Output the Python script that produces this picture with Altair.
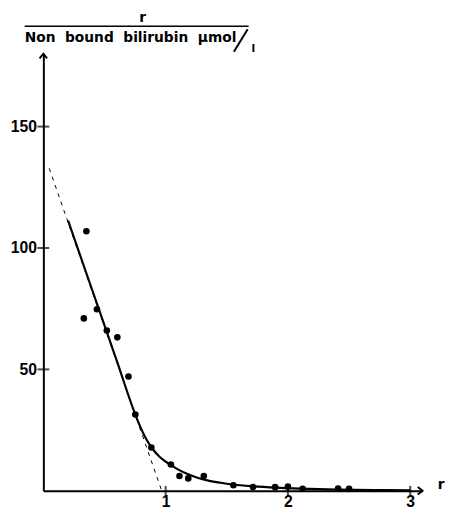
import altair as alt
import pandas as pd

# Measured points (r, r / non-bound bilirubin)
pt_x = [0.352, 0.331, 0.438, 0.519, 0.605, 0.696, 0.752, 0.883, 1.043, 1.113,
        1.185, 1.312, 1.554, 1.715, 1.895, 2.0, 2.12, 2.41, 2.5]
pt_y = [106.9, 71.0, 74.8, 66.0, 63.2, 47.1, 31.4, 17.8, 10.8, 6.1,
        5.1, 6.1, 2.3, 1.5, 1.5, 1.7, 0.8, 0.9, 0.8]

# Fitted curve (solid)
fit_x = [0.202, 0.40, 0.60, 0.752, 0.80, 0.85, 0.90, 0.95, 1.00, 1.05, 1.10,
         1.18, 1.26, 1.35, 1.45, 1.55, 1.70, 1.90, 2.10, 2.40, 2.70, 3.00]
fit_y = [111.3, 82.6, 53.6, 31.4, 25.5, 20.5, 16.8, 14.0, 12.0, 10.4, 8.8,
         6.9, 5.4, 4.2, 3.3, 2.6, 1.9, 1.3, 0.9, 0.5, 0.3, 0.2]

# Extrapolated straight line (dashed)
dash_x = [0.048, 0.968]
dash_y = [132.8, 0.0]

x_ticks = [1, 2, 3]
y_ticks = [50, 100, 150]
x_max = 3.1
y_max = 180

W, H = 386, 445
FONT = "DejaVu Sans"
NB = "\u00a0"

xs = alt.Scale(domain=[0, x_max], nice=False, zero=True)
ys = alt.Scale(domain=[0, y_max], nice=False, zero=True)

pts = pd.DataFrame({"x": pt_x, "y": pt_y})
fit = pd.DataFrame({"x": fit_x, "y": fit_y})
dash = pd.DataFrame({"x": dash_x, "y": dash_y})
xt = pd.DataFrame({"x": x_ticks, "y": [0] * len(x_ticks)})
yt = pd.DataFrame({"x": [0] * len(y_ticks), "y": y_ticks})
arr_x = pd.DataFrame({"x": [x_max], "y": [0]})
arr_y = pd.DataFrame({"x": [0], "y": [y_max]})

X = alt.X("x:Q", scale=xs, axis=alt.Axis(
    values=x_ticks, title=None, grid=False, ticks=False, domainWidth=2,
    domainColor="black", labelFont="Liberation Sans", labelFontWeight="bold",
    labelFontSize=16, labelColor="black", labelPadding=3))
Y = alt.Y("y:Q", scale=ys, axis=alt.Axis(
    values=y_ticks, title=None, grid=False, ticks=False, domainWidth=2,
    domainColor="black", labelFont="Liberation Sans", labelFontWeight="bold",
    labelFontSize=16, labelColor="black", labelPadding=7))

dashed = alt.Chart(dash).mark_line(color="black", strokeWidth=1, strokeDash=[4, 5]).encode(x=X, y=Y)
solid = alt.Chart(fit).mark_line(color="black", strokeWidth=2.2, interpolate="monotone").encode(x=X, y=Y)
dots = alt.Chart(pts).mark_circle(color="black", size=45, opacity=1).encode(x=X, y=Y)
xtick = alt.Chart(xt).mark_tick(orient="vertical", color="black", size=10, thickness=2).encode(x=X, y=Y)
ytick = alt.Chart(yt).mark_tick(orient="horizontal", color="black", size=12, thickness=2).encode(x=X, y=Y)
ax_arrow = alt.Chart(arr_x).mark_point(shape="M-1,-0.8L0,0L-1,0.8", filled=False, color="black",
                                        strokeWidth=2, size=90, opacity=1).encode(x=X, y=Y)
ay_arrow = alt.Chart(arr_y).mark_point(shape="M-0.8,1L0,0L0.8,1", filled=False, color="black",
                                        strokeWidth=2, size=90, opacity=1).encode(x=X, y=Y)

r_label = alt.Chart(arr_x).mark_text(text="r", font=FONT, fontWeight="bold", fontSize=14,
                                     color="black").encode(x=alt.value(W + 19), y=alt.value(H - 6))
title_r = alt.Chart(arr_x).mark_text(text="r", font=FONT, fontWeight="bold", fontSize=14,
                                     color="black").encode(x=alt.value(101), y=alt.value(-36))
frac = alt.Chart(arr_x).mark_rule(color="black", strokeWidth=1.5).encode(
    x=alt.value(-19), x2=alt.value(209), y=alt.value(-28))
title_txt = alt.Chart(arr_x).mark_text(
    text="Non" + NB + NB + "bound" + NB + NB + "bilirubin" + NB + NB + "\u03bcmol",
    font=FONT, fontWeight="bold", fontSize=14, color="black",
    align="left", baseline="alphabetic").encode(x=alt.value(-19), y=alt.value(-12))
slash = alt.Chart(arr_x).mark_rule(color="black", strokeWidth=2).encode(
    x=alt.value(194), x2=alt.value(208), y=alt.value(-2), y2=alt.value(-25))
title_l = alt.Chart(arr_x).mark_text(text="l", font=FONT, fontWeight="bold", fontSize=11,
                                     color="black", align="left", baseline="alphabetic").encode(
    x=alt.value(212), y=alt.value(-2))

chart = alt.layer(dashed, solid, dots, xtick, ytick, ax_arrow, ay_arrow,
                  r_label, title_r, frac, title_txt, slash, title_l).properties(
    width=W, height=H,
    autosize=alt.AutoSizeParams(type="none"),
    padding={"left": 36, "top": 42, "right": 26, "bottom": 16},
).configure(background="white", view=alt.ViewConfig(strokeWidth=0, stroke="transparent"))

chart.save("out.html", embed_options={"renderer": "svg", "actions": False})
